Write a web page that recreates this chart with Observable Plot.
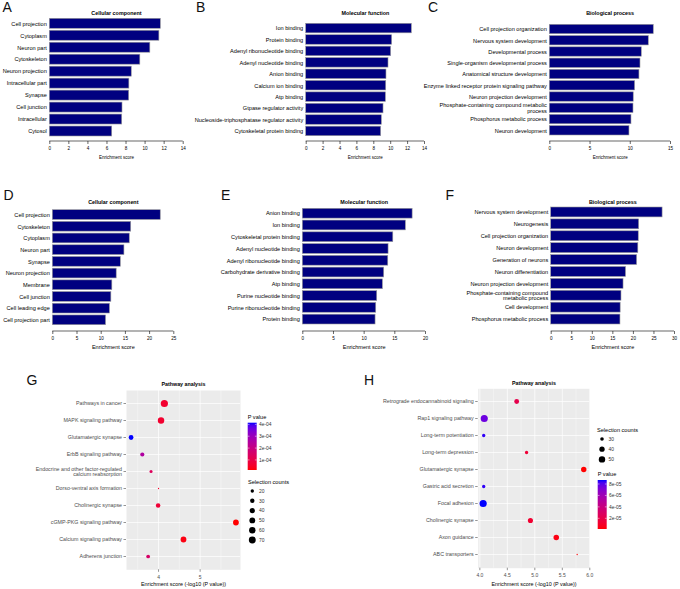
<!DOCTYPE html>
<html>
<head>
<meta charset="utf-8">
<script src="https://cdn.jsdelivr.net/npm/d3@7"></script>
<script src="https://cdn.jsdelivr.net/npm/@observablehq/plot@0.6"></script>
<style>
  body { margin: 0; background: #fff; }
  #fig { position: relative; width: 680px; height: 589px; overflow: hidden; background: #fff;
         font-family: "Liberation Sans", Arial, Helvetica, sans-serif; }
  .pane { position: absolute; }
  .pane svg { overflow: visible; max-width: none; }
  .letter { position: absolute; font-size: 14px; line-height: 14px; color: #111; }
</style>
</head>
<body>
<div id="fig"></div>
<script>
// ---------------- DATA ----------------
// Panel A – Cellular component
const termsA = ["Cell projection", "Cytoplasm", "Neuron part", "Cytoskeleton", "Neuron projection",
  "Intracellular part", "Synapse", "Cell junction", "Intracellular", "Cytosol"];
const scoresA = [11.65, 11.5, 10.55, 9.5, 8.6, 8.35, 8.33, 7.63, 7.6, 6.55];
const ticksA = [0, 2, 4, 6, 8, 10, 12, 14];

// Panel B – Molecular function
const termsB = ["Ion binding", "Protein binding", "Adenyl ribonucleotide binding", "Adenyl nucleotide binding",
  "Anion binding", "Calcium ion binding", "Atp binding", "Gtpase regulator activity",
  "Nucleoside-triphosphatase regulator activity", "Cytoskeletal protein binding"];
const scoresB = [12.5, 10.17, 10.05, 9.74, 9.5, 9.47, 9.43, 9.15, 8.95, 8.87];
const ticksB = [0, 2, 4, 6, 8, 10, 12, 14];

// Panel C – Biological process
const termsC = ["Cell projection organization", "Nervous system development", "Developmental process",
  "Single-organism developmental process", "Anatomical structure development",
  "Enzyme linked receptor protein signaling pathway", "Neuron projection development",
  "Phosphate-containing compound metabolic\nprocess", "Phosphorus metabolic process", "Neuron development"];
const scoresC = [12.92, 12.3, 11.43, 11.27, 11.14, 10.6, 10.43, 10.4, 10.15, 9.9];
const ticksC = [0, 5, 10, 15];

// Panel D – Cellular component
const termsD = ["Cell projection", "Cytoskeleton", "Cytoplasm", "Neuron part", "Synapse", "Neuron projection",
  "Membrane", "Cell junction", "Cell leading edge", "Cell projection part"];
const scoresD = [22.3, 16.2, 15.9, 14.8, 14.05, 13.2, 12.3, 12.1, 11.8, 11.0];
const ticksD = [0, 5, 10, 15, 20, 25];

// Panel E – Molecular function
const termsE = ["Anion binding", "Ion binding", "Cytoskeletal protein binding", "Adenyl nucleotide binding",
  "Adenyl ribonucleotide binding", "Carbohydrate derivative binding", "Atp binding",
  "Purine nucleotide binding", "Purine ribonucleotide binding", "Protein binding"];
const scoresE = [17.9, 16.8, 14.75, 13.98, 13.93, 13.27, 13.05, 12.13, 11.97, 11.86];
const ticksE = [0, 5, 10, 15, 20];

// Panel F – Biological process
const termsF = ["Nervous system development", "Neurogenesis", "Cell projection organization", "Neuron development",
  "Generation of neurons", "Neuron differentiation", "Neuron projection development",
  "Phosphate-containing compound\nmetabolic process", "Cell development", "Phosphorus metabolic process"];
const scoresF = [27.1, 21.4, 21.3, 21.2, 20.9, 18.2, 17.6, 17.1, 16.9, 16.85];
const ticksF = [0, 5, 10, 15, 20, 25, 30];

// Panel G – Pathway analysis
const pathwaysG = ["Pathways in cancer", "MAPK signaling pathway", "Glutamatergic synapse", "ErbB signaling pathway",
  "Endocrine and other factor-regulated\ncalcium reabsorption", "Dorso-ventral axis formation",
  "Cholinergic synapse", "cGMP-PKG signaling pathway", "Calcium signaling pathway", "Adherens junction"];
const scoresG = [4.14, 4.06, 3.34, 3.61, 3.82, 4.0, 3.99, 5.86, 4.6, 3.75];
const pvalsG = [6.3e-5, 6.3e-5, 4.14e-4, 2.55e-4, 1.35e-4, 5.5e-5, 7.5e-5, 1.5e-5, 2.7e-5, 1.55e-4];
const countsG = [76, 60, 34, 27, 18, 12, 31, 49, 49, 23];
const xTicksG = [4, 5];
const xMinorG = [3.5, 4.5, 5.5];
const pTicksG = [1e-4, 2e-4, 3e-4, 4e-4];
const countBreaksG = [20, 30, 40, 50, 60, 70];

// Panel H – Pathway analysis
const pathwaysH = ["Retrograde endocannabinoid signaling", "Rap1 signaling pathway", "Long-term potentiation",
  "Long-term depression", "Glutamatergic synapse", "Gastric acid secretion", "Focal adhesion",
  "Cholinergic synapse", "Axon guidance", "ABC transporters"];
const scoresH = [4.67, 4.08, 4.07, 4.85, 5.89, 4.07, 4.06, 4.92, 5.39, 5.77];
const pvalsH = [2.1e-5, 7.6e-5, 8.5e-5, 1.4e-5, 1.3e-6, 8.5e-5, 8.7e-5, 1.2e-5, 4.1e-6, 1.7e-6];
const countsH = [37, 57, 29, 29, 41, 29, 58, 39, 42, 25];
const xTicksH = [4.0, 4.5, 5.0, 5.5, 6.0];
const xMinorH = [4.25, 4.75, 5.25, 5.75];
const pTicksH = [2e-5, 4e-5, 6e-5, 8e-5];
const countBreaksH = [30, 40, 50];

// ---------------- DRAWING ----------------
const FONT = '"Liberation Sans", Arial, Helvetica, sans-serif';
const fig = document.getElementById("fig");

function place(node, left, top, width) {
  const d = document.createElement("div");
  d.className = "pane";
  d.style.left = left + "px";
  d.style.top = top + "px";
  d.style.width = width + "px";
  d.appendChild(node);
  fig.appendChild(d);
}
function letter(txt, left, top) {
  const d = document.createElement("div");
  d.className = "letter";
  d.style.left = left + "px";
  d.style.top = top + "px";
  d.textContent = txt;
  fig.appendChild(d);
}

// axis base line from first to last tick, like R's axis()
function baseline(xMax) {
  return (index, scales, values, dims) => {
    const y = dims.height - dims.marginBottom;
    return d3.create("svg:line")
      .attr("x1", scales.x(0)).attr("x2", scales.x(xMax))
      .attr("y1", y).attr("y2", y)
      .attr("stroke", "#000").attr("stroke-width", 0.6).node();
  };
}

function barPanel(c) {
  const data = c.terms.map((t, i) => ({term: t, score: c.scores[i]}));
  const xMax = c.ticks[c.ticks.length - 1];
  return Plot.plot({
    width: c.w, height: c.h,
    marginLeft: c.mL, marginRight: c.mR, marginTop: c.mT, marginBottom: c.mB,
    style: {background: "none", fontFamily: FONT, color: "#000", overflow: "visible", maxWidth: "none"},
    x: {domain: [0, xMax]},
    y: {domain: c.terms, paddingInner: 0.167, paddingOuter: 0, insetBottom: c.inset, round: false},
    marks: [
      Plot.barX(data, {x: "score", y: "term", fill: "#000080", stroke: "#9a9a9a", strokeWidth: 0.6}),
      Plot.axisY({tickSize: 0, tickPadding: 3, fontSize: 5.6, label: null}),
      Plot.axisX(c.ticks, {tickSize: 3, tickPadding: 2.5, fontSize: 4.6, strokeWidth: 0.6, label: null}),
      baseline(xMax),
      Plot.text([c.title], {frameAnchor: "top", dy: c.titleDy, lineAnchor: "middle", fontWeight: "bold", fontSize: 5.4}),
      Plot.text(["Enrichment score"], {frameAnchor: "bottom", dy: 16, lineAnchor: "middle", fontSize: c.xlabSize})
    ]
  });
}

function expFmt(v) {
  const [m, e] = v.toExponential(0).split("e");
  return m + "e" + e[0] + e.slice(1).padStart(2, "0");
}

function dotPanel(c) {
  const data = c.terms.map((t, i) => ({term: t, score: c.scores[i], p: c.pvals[i], n: c.counts[i]}));
  const nMin = d3.min(c.counts), nMax = d3.max(c.counts);
  const pMin = d3.min(c.pvals), pMax = d3.max(c.pvals);
  const rv = n => 1 + Math.sqrt((n - nMin) / (nMax - nMin));   // ggplot area scaling

  const colorLegend = (index, scales) => {
    const L = c.cl;
    const g = d3.create("svg:g").attr("font-family", FONT).attr("text-anchor", "start");
    const id = "grad" + c.key;
    const grad = g.append("defs").append("linearGradient").attr("id", id)
      .attr("x1", 0).attr("y1", 1).attr("x2", 0).attr("y2", 0);
    for (let i = 0; i <= 20; i++) {
      const t = i / 20;
      grad.append("stop").attr("offset", t).attr("stop-color", scales.color(pMin + t * (pMax - pMin)));
    }
    g.append("text").attr("x", L.x).attr("y", L.titleY).attr("dy", "0.35em").attr("font-size", 5.6).text("P value");
    g.append("rect").attr("x", L.x).attr("y", L.y).attr("width", L.w).attr("height", L.h).attr("fill", `url(#${id})`);
    for (const v of c.pTicks) {
      const y = L.y + L.h - (v - pMin) / (pMax - pMin) * L.h;
      g.append("line").attr("x1", L.x).attr("x2", L.x + 1.8).attr("y1", y).attr("y2", y).attr("stroke", "#fff").attr("stroke-width", 0.5);
      g.append("line").attr("x1", L.x + L.w - 1.8).attr("x2", L.x + L.w).attr("y1", y).attr("y2", y).attr("stroke", "#fff").attr("stroke-width", 0.5);
      g.append("text").attr("x", L.x + L.w + 2.3).attr("y", y).attr("dy", "0.35em").attr("font-size", 4.9).attr("fill", "#333").text(expFmt(v));
    }
    return g.node();
  };

  const sizeLegend = (index, scales) => {
    const S = c.sl;
    const g = d3.create("svg:g").attr("font-family", FONT).attr("text-anchor", "start");
    g.append("text").attr("x", S.titleX).attr("y", S.titleY).attr("dy", "0.35em").attr("font-size", 5.6).text("Selection counts");
    c.countBreaks.forEach((b, i) => {
      const y = S.y0 + i * S.step;
      g.append("circle").attr("cx", S.x).attr("cy", y).attr("r", scales.r(rv(b))).attr("fill", "#000");
      g.append("text").attr("x", S.labelX).attr("y", y).attr("dy", "0.35em").attr("font-size", 4.9).attr("fill", "#333").text(b);
    });
    return g.node();
  };

  return Plot.plot({
    width: c.w, height: c.h,
    marginLeft: c.mL, marginRight: c.mR, marginTop: c.mT, marginBottom: c.mB,
    style: {background: "none", fontFamily: FONT, color: "#000", overflow: "visible", maxWidth: "none"},
    x: {domain: c.xDomain},
    y: {type: "point", domain: c.terms, padding: 0.6},
    color: {type: "linear", domain: [pMin, pMax], range: ["#FF0000", "#0000FF"], interpolate: d3.interpolateLab},
    r: {type: "linear", domain: [1, 2], range: [0.65, 3.6]},
    marks: [
      Plot.frame({fill: "#EBEBEB", stroke: "none"}),
      Plot.gridX(c.xMinor, {stroke: "#fff", strokeOpacity: 1, strokeWidth: 0.35}),
      Plot.gridX(c.xTicks, {stroke: "#fff", strokeOpacity: 1, strokeWidth: 0.7}),
      Plot.gridY(c.terms, {stroke: "#fff", strokeOpacity: 1, strokeWidth: 0.7}),
      Plot.dot(data, {x: "score", y: "term", r: d => rv(d.n), fill: "p"}),
      Plot.axisY({tickSize: 2.5, tickPadding: 2, fontSize: 5.3, color: "#4D4D4D", strokeWidth: 0.6, label: null}),
      Plot.axisX(c.xTicks, {tickSize: 2.5, tickPadding: 3, fontSize: 5, color: "#4D4D4D", strokeWidth: 0.6,
        tickFormat: c.xFormat, label: null}),
      Plot.text(["Pathway analysis"], {frameAnchor: "top", dy: c.titleDy, lineAnchor: "middle", fontWeight: "bold", fontSize: 5.3}),
      Plot.text(["Enrichment score (-log10 (P value))"], {frameAnchor: "bottom", dy: c.xlabDy, lineAnchor: "middle", fontSize: 5.4}),
      colorLegend,
      sizeLegend
    ]
  });
}

// Row 1
place(barPanel({terms: termsA, scores: scoresA, ticks: ticksA, title: "Cellular component",
  w: 227, h: 165, mL: 49.3, mR: 44.3, mT: 18.3, mB: 24, inset: 5, titleDy: -5.6, xlabSize: 4.5}), 0, 0, 227);
place(barPanel({terms: termsB, scores: scoresB, ticks: ticksB, title: "Molecular function",
  w: 260, h: 165, mL: 125.7, mR: 16, mT: 23.3, mB: 24, inset: 5.3, titleDy: -10.6, xlabSize: 4.5}), 180, 0, 260);
place(barPanel({terms: termsC, scores: scoresC, ticks: ticksC, title: "Biological process",
  w: 350, h: 165, mL: 219.3, mR: 10, mT: 24.3, mB: 24, inset: 6, titleDy: -11.6, xlabSize: 4.5}), 330, 0, 350);

// Row 2
place(barPanel({terms: termsD, scores: scoresD, ticks: ticksD, title: "Cellular component",
  w: 227, h: 185, mL: 52.3, mR: 53.7, mT: 39.7, mB: 24, inset: 6.3, titleDy: -7.7, xlabSize: 5.5}), 0, 170, 227);
place(barPanel({terms: termsE, scores: scoresE, ticks: ticksE, title: "Molecular function",
  w: 260, h: 185, mL: 122.3, mR: 15, mT: 38.3, mB: 24, inset: 7, titleDy: -6.3, xlabSize: 5.5}), 180, 170, 260);
place(barPanel({terms: termsF, scores: scoresF, ticks: ticksF, title: "Biological process",
  w: 350, h: 185, mL: 220.7, mR: 6, mT: 37, mB: 24, inset: 7, titleDy: -5, xlabSize: 5.5}), 330, 170, 350);

// Row 3
place(dotPanel({key: "G", terms: pathwaysG, scores: scoresG, pvals: pvalsG, counts: countsG,
  xTicks: xTicksG, xMinor: xMinorG, pTicks: pTicksG, countBreaks: countBreaksG, xFormat: d3.format("d"),
  xDomain: [3.23, 5.97], w: 340, h: 234, mL: 126, mR: 100, mT: 35, mB: 19.7, titleDy: -6.3, xlabDy: 14.7,
  cl: {x: 247.7, y: 67.7, w: 9, h: 47.3, titleY: 62},
  sl: {titleX: 248, titleY: 127, x: 252.3, y0: 136, step: 9.8, labelX: 259}}), 0, 355, 340);
place(dotPanel({key: "H", terms: pathwaysH, scores: scoresH, pvals: pvalsH, counts: countsH,
  xTicks: xTicksH, xMinor: xMinorH, pTicks: pTicksH, countBreaks: countBreaksH, xFormat: d3.format(".1f"),
  xDomain: [3.97, 6.0], w: 340, h: 234, mL: 137.7, mR: 90.7, mT: 33.3, mB: 21.3, titleDy: -5.6, xlabDy: 16.3,
  cl: {x: 257.7, y: 125, w: 9, h: 49, titleY: 119.3},
  sl: {titleX: 257, titleY: 75, x: 262, y0: 84, step: 10.2, labelX: 268.5}}), 340, 355, 340);

// Panel letters
letter("A", 2.5, 0); letter("B", 196, 0); letter("C", 428, 0);
letter("D", 3.5, 187.5); letter("E", 221, 187.5); letter("F", 445.5, 187.5);
letter("G", 26.5, 373); letter("H", 364, 373);
</script>
</body>
</html>
